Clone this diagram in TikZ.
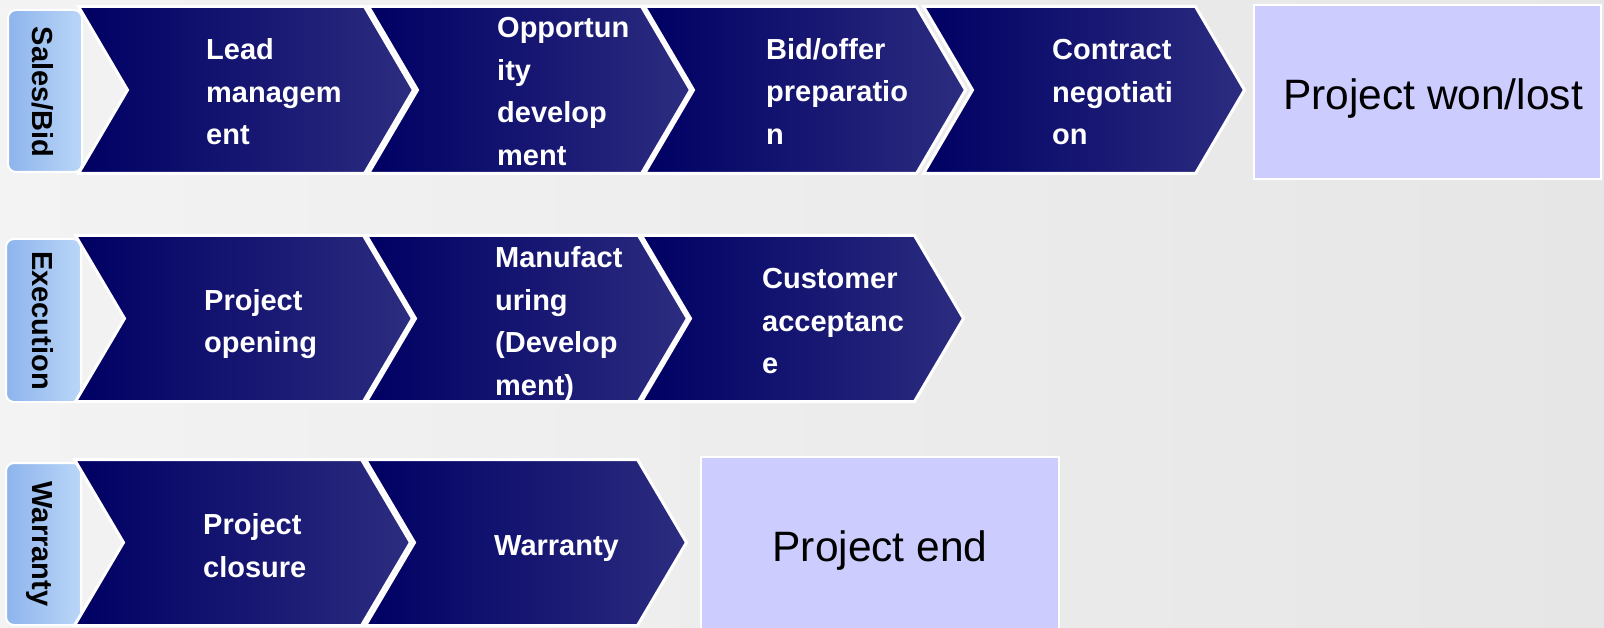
\documentclass[tikz,border=0pt]{standalone}
\usepackage{fontspec}
\setmainfont{Liberation Sans}
\definecolor{navyL}{RGB}{0,0,100}
\definecolor{navyR}{RGB}{44,44,128}
\definecolor{lblL}{RGB}{141,180,236}
\definecolor{lblR}{RGB}{186,214,248}
\definecolor{boxfill}{RGB}{204,204,255}
\definecolor{bgL}{RGB}{243,243,243}
\definecolor{bgR}{RGB}{230,230,230}
\newcommand\chevshape[4]{% x0, x1, top, bottom
  \path[chev] (#1,#3) -- (#2,#3) -- ({#2+49},{(#3+#4)/2}) -- (#2,#4) -- (#1,#4) -- ({#1+49},{(#3+#4)/2}) -- cycle;}
\newcommand\steplines[1]{\begin{tabular}[t]{@{}l@{}}#1\end{tabular}}
\begin{document}
\begin{tikzpicture}[x=1pt,y=-1pt,
  chev/.style={draw=white, line width=3pt, line join=miter, left color=navyL, right color=navyR},
  lblbox/.style={draw=white, line width=2pt, rounded corners=8pt, left color=lblL, right color=lblR},
  lbltext/.style={font=\fontsize{29}{35}\selectfont\bfseries, text=black, rotate=-90, anchor=base, inner sep=0pt},
  chevtext/.style={font=\fontsize{29}{42.5}\selectfont\bfseries, text=white, anchor=base west, inner sep=0pt},
  endbox/.style={draw=white, line width=2pt, fill=boxfill, inner sep=0pt},
  endtext/.style={font=\fontsize{42.5}{50}\selectfont, text=black, anchor=base, inner sep=0pt}]
\useasboundingbox (0,0) rectangle (1604,628);
\path[left color=bgL, right color=bgR] (0,0) rectangle (1604,628);
% ---- row 1: Sales/Bid
\path[lblbox] (8,10) rectangle (82,172);
\node[lbltext] (lsales) at (32,92) {Sales/Bid};
\chevshape{78.5}{364.5}{6.5}{173.5}
\chevshape{368.5}{641.5}{6.5}{173.5}
\chevshape{644.5}{916.5}{6.5}{173.5}
\chevshape{923.5}{1195.5}{6.5}{173.5}
\node[chevtext] (lead) at (206,60) {\steplines{Lead\\managem\\ent}};
\node[chevtext] (opp) at (497,38) {\steplines{Opportun\\ity\\develop\\ment}};
\node[chevtext] (bid) at (766,59.5) {\steplines{Bid/offer\\preparatio\\n}};
\node[chevtext] (contract) at (1052,60) {\steplines{Contract\\negotiati\\on}};
\node[endbox, minimum width=347pt, minimum height=174pt] (wonbox) at (1427.5,92) {};
\node[endtext] (won) at (1433,109.5) {Project won/lost};
% ---- row 2: Execution
\path[lblbox] (6,239) rectangle (81,402);
\node[lbltext] (lexec) at (32,320.5) {Execution};
\chevshape{75.5}{363.5}{235.5}{401.5}
\chevshape{366.5}{638.5}{235.5}{401.5}
\chevshape{641.5}{914.5}{235.5}{401.5}
\node[chevtext] (popen) at (204,310.5) {\steplines{Project\\opening}};
\node[chevtext] (manuf) at (495,268) {\steplines{Manufact\\uring\\(Develop\\ment)}};
\node[chevtext] (cust) at (762,289) {\steplines{Customer\\acceptanc\\e}};
% ---- row 3: Warranty
\path[lblbox] (6,463) rectangle (81,625);
\node[lbltext] (lwarr) at (32,544) {Warranty};
\chevshape{74.5}{361.5}{459.5}{625.5}
\chevshape{365.5}{637.5}{459.5}{625.5}
\node[chevtext] (pclose) at (203,534.5) {\steplines{Project\\closure}};
\node[chevtext] (warr) at (494,555) {Warranty};
\node[endbox, minimum width=358pt, minimum height=173pt] (endb) at (880,543.5) {};
\node[endtext] (pend) at (880,561) {Project end};
\end{tikzpicture}
\end{document}
